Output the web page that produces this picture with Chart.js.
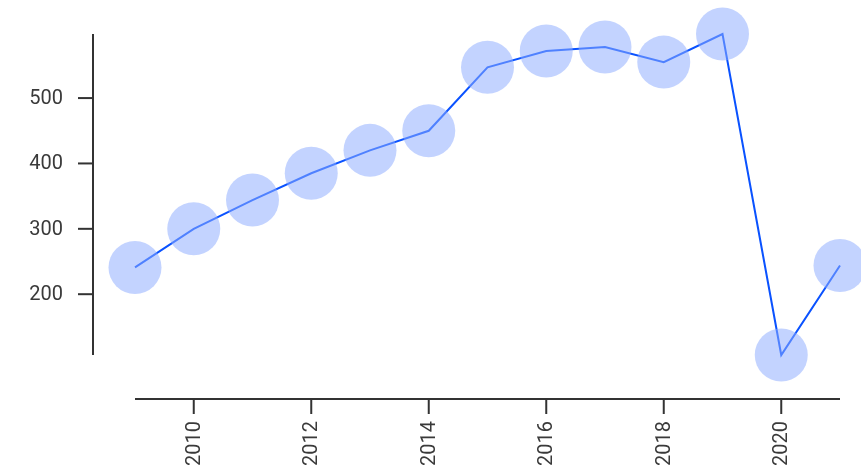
<!DOCTYPE html>
<html><head><meta charset="utf-8">
<script src="https://cdn.jsdelivr.net/npm/chart.js@4"></script>
<style>html,body{margin:0;padding:0;background:#fff;overflow:hidden}#wrap{width:861px;height:466px;overflow:hidden}canvas{display:block}</style>
</head><body><div id="wrap"><canvas id="c" width="868" height="466"></canvas></div>
<script>
const years = [2009, 2010, 2011, 2012, 2013, 2014, 2015, 2016, 2017, 2018, 2019, 2020, 2021];
const values = [241, 300, 344, 385, 420, 450, 547, 572, 578, 555, 598, 107, 244];
const yTicks = [200, 300, 400, 500];
const xTicks = [2010, 2012, 2014, 2016, 2018, 2020];

const AXIS_COLOR = '#333333';
const TEXT_COLOR = '#3a3a3a';
const FONT = '20px Roboto';

const axesPlugin = {
  id: 'detachedAxes',
  afterDraw(chart) {
    const ctx = chart.ctx;
    const xs = chart.scales.x, ys = chart.scales.y;
    const area = chart.chartArea;
    ctx.save();
    ctx.strokeStyle = AXIS_COLOR;
    ctx.lineWidth = 2;
    ctx.fillStyle = TEXT_COLOR;
    ctx.font = FONT;
    // y axis
    const ax = area.left - 42;
    ctx.beginPath();
    ctx.moveTo(ax, ys.getPixelForValue(ys.max));
    ctx.lineTo(ax, ys.getPixelForValue(ys.min));
    ctx.stroke();
    ctx.textAlign = 'right';
    ctx.textBaseline = 'middle';
    yTicks.forEach(v => {
      const y = ys.getPixelForValue(v);
      ctx.beginPath();
      ctx.moveTo(ax - 15, y);
      ctx.lineTo(ax, y);
      ctx.stroke();
      ctx.fillText(String(v), ax - 30, y + 1);
    });
    // x axis
    const ay = area.bottom + 44;
    ctx.beginPath();
    ctx.moveTo(xs.getPixelForValue(xs.min), ay);
    ctx.lineTo(xs.getPixelForValue(xs.max), ay);
    ctx.stroke();
    xTicks.forEach(v => {
      const x = xs.getPixelForValue(v);
      ctx.beginPath();
      ctx.moveTo(x, ay);
      ctx.lineTo(x, ay + 15);
      ctx.stroke();
      ctx.save();
      ctx.translate(x + 1, ay + 22);
      ctx.rotate(-Math.PI / 2);
      ctx.textAlign = 'right';
      ctx.textBaseline = 'middle';
      ctx.fillText(String(v), 0, 0);
      ctx.restore();
    });
    ctx.restore();
  }
};

new Chart(document.getElementById('c'), {
  type: 'line',
  data: {
    datasets: [{
      data: years.map((y, i) => ({ x: y, y: values[i] })),
      borderColor: '#0a52ff',
      borderWidth: 2,
      tension: 0,
      fill: false,
      pointRadius: 26.5,
      pointHoverRadius: 26.5,
      pointBackgroundColor: 'rgba(141,172,255,0.53)',
      pointBorderWidth: 0,
      clip: false
    }]
  },
  options: {
    responsive: false,
    devicePixelRatio: 1,
    animation: false,
    events: [],
    layout: { padding: { left: 135, right: 28, top: 34, bottom: 111 } },
    plugins: { legend: { display: false }, tooltip: { enabled: false } },
    scales: {
      x: { type: 'linear', min: years[0], max: years[years.length - 1], display: false },
      y: { type: 'linear', min: Math.min(...values), max: Math.max(...values), display: false }
    }
  },
  plugins: [axesPlugin]
});
</script></body></html>
